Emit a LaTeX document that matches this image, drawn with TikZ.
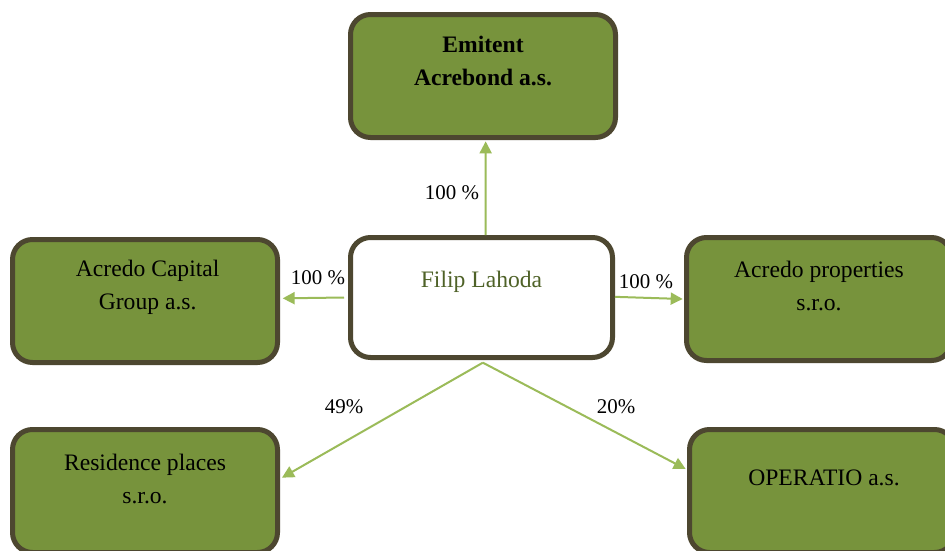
\documentclass[tikz,border=0pt]{standalone}
\usepackage{fontspec}
\setmainfont{Liberation Serif}
\usetikzlibrary{arrows.meta}

\definecolor{boxfill}{HTML}{77933C}
\definecolor{boxline}{HTML}{4D4730}
\definecolor{linkgreen}{HTML}{9BBB59}
\definecolor{nametext}{HTML}{4F6228}

\tikzset{
  firmbox/.style={draw=boxline, line width=3.75pt, rounded corners=15pt, fill=boxfill,
    minimum width=198.75pt, minimum height=92.25pt, inner sep=0pt},
  boxtext/.style={align=center, inner sep=0pt, font=\fontsize{17.7}{24.75}\selectfont},
  link/.style={draw=linkgreen, line width=1.5pt, -{Triangle[length=9pt,width=9pt]}},
  share/.style={inner sep=0pt, font=\fontsize{15.7}{18}\selectfont}
}

\begin{document}
\begin{tikzpicture}[x=0.75pt,y=0.75pt,yscale=-1,xscale=1]
%set diagram size 945 x 550
\clip (0,0) rectangle (945,550);
\path[fill=white] (0,0) rectangle (945,550);

%Shape: Rounded Rect [id:emitent]
\node[firmbox] (emit) at (483,76) {};
\node[boxtext, font=\fontsize{17.7}{24.75}\selectfont\bfseries] (emitT) at ([yshift=-11pt]emit.center) {Emitent\\Acrebond a.s.};
%Shape: Rounded Rect [id:lahoda]
\node[firmbox, fill=white, minimum width=196.5pt, minimum height=90pt] (lahoda) at (481.5,297.5) {};
\node[boxtext, text=nametext] (lahodaT) at ([yshift=-11.5pt]lahoda.center) {Filip Lahoda};
%Shape: Rounded Rect [id:capital]
\node[firmbox] (capital) at (145,301) {};
\node[boxtext] (capitalT) at ([yshift=-10pt,xshift=2pt]capital.center) {Acredo Capital\\Group a.s.};
%Shape: Rounded Rect [id:properties]
\node[firmbox] (prop) at (819,299) {};
\node[boxtext] (propT) at ([yshift=-10pt]prop.center) {Acredo properties\\s.r.o.};
%Shape: Rounded Rect [id:residence]
\node[firmbox] (resid) at (145,491) {};
\node[boxtext] (residT) at ([yshift=-9pt]resid.center) {Residence places\\s.r.o.};
%Shape: Rounded Rect [id:operatio]
\node[firmbox] (oper) at (822,491) {};
\node[boxtext] (operT) at ([yshift=-9.5pt,xshift=1.5pt]oper.center) {OPERATIO a.s.};

%Straight Lines [id:links]
\draw[link] ([xshift=3pt]lahoda.north) -- ([xshift=2pt,yshift=1pt]emit.south);
\draw[link] ([xshift=-3pt]lahoda.west) -- ([xshift=2pt,yshift=-2pt]capital.east);
\draw[link] ([yshift=-0.5pt]lahoda.east) -- ([xshift=-1pt]prop.west);
\draw[link] ([xshift=1pt,yshift=2pt]lahoda.south) -- ([xshift=1.5pt,yshift=-10pt]resid.east);
\draw[link] ([xshift=1pt,yshift=2pt]lahoda.south) -- ([xshift=-1pt,yshift=-16.5pt]oper.west);

% Text Node
\node[share] (pEmit) at (452,193) {100 \%};
\node[share] (pCapital) at (318,278) {100 \%};
\node[share] (pProp) at (646,282) {100 \%};
\node[share] (pResid) at (344,407) {49\%};
\node[share] (pOper) at (616,407) {20\%};

\end{tikzpicture}
\end{document}
